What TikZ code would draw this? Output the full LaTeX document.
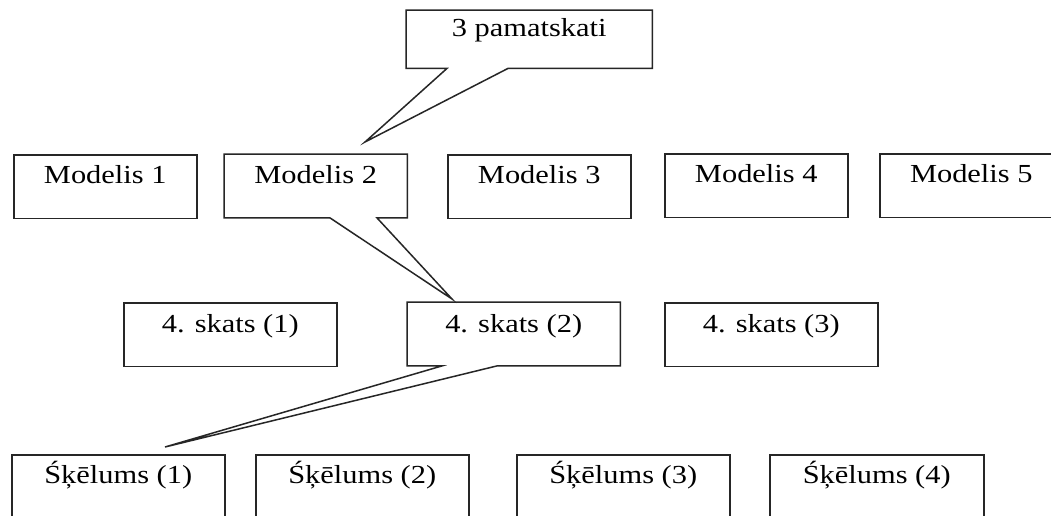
\documentclass[tikz,border=0pt]{standalone}
\usepackage{fontspec}
\setmainfont{Liberation Serif}
\usetikzlibrary{calc}
\tikzset{
  boxline/.style={line width=1.5pt, draw=black!85, line join=miter},
  box/.style={boxline, draw, rectangle, inner sep=0pt, minimum width=#1, minimum height=63.5pt},
  box/.default=183pt,
  hidbox/.style={rectangle, inner sep=0pt, minimum width=#1, minimum height=63.5pt},
  lbl/.style={anchor=base, inner sep=0pt, font=\fontsize{26}{30}\selectfont, text=black},
}
\newcommand{\wtxt}[1]{\scalebox{1.17}[1]{#1}}
\begin{document}
\begin{tikzpicture}[x=1pt, y=-1pt]
\useasboundingbox (0,0) rectangle (1051,515);
\clip (0,0) rectangle (1051,515);
\fill[white] (0,0) rectangle (1051,515);

% top callout
\node[hidbox=246pt, minimum height=58pt, anchor=north west] (top) at (406,10) {};
\coordinate (toptip) at (365,142);
\draw[boxline] ($(top.south west)+(41,0)$) -- (top.south west) -- (top.north west) -- (top.north east) -- (top.south east) -- ($(top.south west)+(102,0)$) -- (toptip) -- cycle;
\node[lbl] (toptxt) at ($(top.north)+(0,26)$) {\wtxt{3 pamatskati}};

% row 1
\node[box, anchor=north west] (m1) at (13,154) {};
\node[hidbox=183pt, anchor=north west] (m2) at (224,154) {};
\node[box, anchor=north west] (m3) at (447,154) {};
\node[box, anchor=north west] (m4) at (664,153) {};
\node[box, anchor=north west] (m5) at (879,153) {};
\coordinate (m2tip) at (452,299);
\draw[boxline] ($(m2.south west)+(106,0)$) -- (m2.south west) -- (m2.north west) -- (m2.north east) -- (m2.south east) -- ($(m2.south west)+(153,0)$) -- (m2tip) -- cycle;
\foreach \n/\t in {m1/Modelis 1, m2/Modelis 2, m3/Modelis 3, m4/Modelis 4, m5/Modelis 5}
  \node[lbl] (\n txt) at ($(\n.north)+(0,29)$) {\wtxt{\t}};

% row 2
\node[box=213pt, anchor=north west] (s1) at (123,302) {};
\node[hidbox=213pt, anchor=north west] (s2) at (407,302) {};
\node[box=213pt, anchor=north west] (s3) at (664,302) {};
\coordinate (s2tip) at (165,447);
\draw[boxline] ($(s2.south west)+(35,0)$) -- (s2.south west) -- (s2.north west) -- (s2.north east) -- (s2.south east) -- ($(s2.south west)+(90,0)$) -- (s2tip) -- cycle;
\foreach \n/\t in {s1/4. skats (1), s2/4. skats (2), s3/4. skats (3)}
  \node[lbl] (\n txt) at ($(\n.north)+(0,30)$) {\wtxt{\t}};

% row 3
\node[box=213pt, anchor=north west] (k1) at (11,454) {};
\node[box=213pt, anchor=north west] (k2) at (255,454) {};
\node[box=213pt, anchor=north west] (k3) at (516,454) {};
\node[box=214pt, anchor=north west] (k4) at (769,454) {};
\foreach \n/\t in {k1/Śķēlums (1), k2/Śķēlums (2), k3/Śķēlums (3), k4/Śķēlums (4)}
  \node[lbl] (\n txt) at ($(\n.north)+(0,29)$) {\wtxt{\t}};
\end{tikzpicture}
\end{document}
